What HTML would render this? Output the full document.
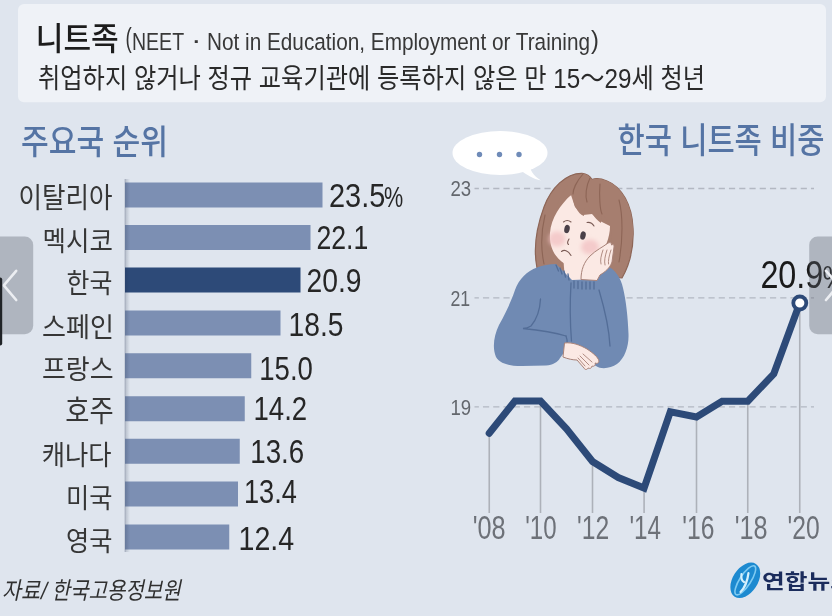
<!DOCTYPE html>
<html lang="ko">
<head>
<meta charset="utf-8">
<title>니트족</title>
<style>
html,body{margin:0;padding:0;background:#dfe5ee;}
body{width:832px;height:616px;overflow:hidden;position:relative;}
svg{display:block;position:absolute;left:0;top:0;filter:blur(0.55px);}
text{font-family:"Liberation Sans","Noto Sans CJK KR",sans-serif;}
</style>
</head>
<body>
<svg width="832" height="616" viewBox="0 0 832 616">
<defs><filter id="bl" x="-50%" y="-50%" width="200%" height="200%"><feGaussianBlur stdDeviation="2.2"/></filter><linearGradient id="axsh" x1="0" y1="0" x2="1" y2="0"><stop offset="0" stop-color="#1c2a45" stop-opacity="0.22"/><stop offset="1" stop-color="#1c2a45" stop-opacity="0"/></linearGradient></defs>
<rect x="0" y="0" width="832" height="616" fill="#dfe5ee"/>
<!-- header box -->
<rect x="18" y="4" width="808" height="98.3" rx="6" fill="#eff2f7"/>
<text x="35.75" y="50.00" font-size="31.76" fill="#1c1c1c" textLength="82.96" lengthAdjust="spacingAndGlyphs" font-weight="500">니트족</text>
<text x="125.50" y="46.50" font-size="27.04" fill="#333" textLength="6.25" lengthAdjust="spacingAndGlyphs">(</text>
<text x="132.00" y="49.70" font-size="24.30" fill="#383838" textLength="52.06" lengthAdjust="spacingAndGlyphs">NEET</text>
<text x="191.00" y="48.50" font-size="26.00" fill="#383838" textLength="10.56" lengthAdjust="spacingAndGlyphs">·</text>
<text x="207.00" y="50.00" font-size="24.30" fill="#383838" textLength="383.02" lengthAdjust="spacingAndGlyphs">Not in Education, Employment or Training</text>
<text x="591.00" y="49.00" font-size="26.58" fill="#333" textLength="7.89" lengthAdjust="spacingAndGlyphs">)</text>
<text x="38.00" y="87.50" font-size="27.62" fill="#2a2a2a" textLength="667.01" lengthAdjust="spacingAndGlyphs">취업하지 않거나 정규 교육기관에 등록하지 않은 만 15～29세 청년</text>
<text x="21.00" y="153.50" font-size="34.28" fill="#5574a4" textLength="147.12" lengthAdjust="spacingAndGlyphs" font-weight="500">주요국 순위</text>
<text x="617.50" y="153.25" font-size="34.80" fill="#5574a4" textLength="207.02" lengthAdjust="spacingAndGlyphs" font-weight="500">한국 니트족 비중</text>
<!-- bar chart -->
<rect x="124.2" y="179" width="1.3" height="373" fill="#c3cad6"/>
<rect x="125" y="182.5" width="197.50" height="25" fill="#7c8fb3"/>
<text x="18.50" y="208.00" font-size="28.37" fill="#363636" textLength="94.06" lengthAdjust="spacingAndGlyphs">이탈리아</text>
<text x="329.00" y="207.40" font-size="33.80" fill="#262626" textLength="56.34" lengthAdjust="spacingAndGlyphs">23.5</text>
<text x="384.00" y="207.30" font-size="30.19" fill="#262626" textLength="19.18" lengthAdjust="spacingAndGlyphs">%</text>
<rect x="125" y="225" width="185.50" height="25" fill="#7c8fb3"/>
<text x="42.50" y="250.50" font-size="27.39" fill="#363636" textLength="70.41" lengthAdjust="spacingAndGlyphs">멕시코</text>
<text x="316.50" y="249.15" font-size="33.80" fill="#262626" textLength="51.83" lengthAdjust="spacingAndGlyphs">22.1</text>
<rect x="125" y="267.5" width="175.50" height="25" fill="#2d4a78"/>
<text x="66.50" y="293.00" font-size="27.39" fill="#363636" textLength="45.84" lengthAdjust="spacingAndGlyphs">한국</text>
<text x="306.50" y="291.65" font-size="33.45" fill="#262626" textLength="55.08" lengthAdjust="spacingAndGlyphs">20.9</text>
<rect x="125" y="310.5" width="155.50" height="25" fill="#7c8fb3"/>
<text x="42.00" y="336.75" font-size="27.39" fill="#363636" textLength="71.93" lengthAdjust="spacingAndGlyphs">스페인</text>
<text x="288.50" y="336.15" font-size="32.69" fill="#262626" textLength="54.93" lengthAdjust="spacingAndGlyphs">18.5</text>
<rect x="125" y="353.25" width="126.25" height="25" fill="#7c8fb3"/>
<text x="42.00" y="379.25" font-size="27.72" fill="#363636" textLength="71.58" lengthAdjust="spacingAndGlyphs">프랑스</text>
<text x="259.25" y="379.90" font-size="33.80" fill="#262626" textLength="53.67" lengthAdjust="spacingAndGlyphs">15.0</text>
<rect x="125" y="396.25" width="119.75" height="25" fill="#7c8fb3"/>
<text x="65.25" y="420.75" font-size="29.47" fill="#363636" textLength="48.36" lengthAdjust="spacingAndGlyphs">호주</text>
<text x="253.50" y="420.15" font-size="33.08" fill="#262626" textLength="53.73" lengthAdjust="spacingAndGlyphs">14.2</text>
<rect x="125" y="438.75" width="114.75" height="25" fill="#7c8fb3"/>
<text x="41.75" y="465.00" font-size="27.72" fill="#363636" textLength="69.80" lengthAdjust="spacingAndGlyphs">캐나다</text>
<text x="250.25" y="463.40" font-size="32.69" fill="#262626" textLength="53.93" lengthAdjust="spacingAndGlyphs">13.6</text>
<rect x="125" y="481.5" width="113.00" height="25" fill="#7c8fb3"/>
<text x="66.00" y="507.50" font-size="27.72" fill="#363636" textLength="46.50" lengthAdjust="spacingAndGlyphs">미국</text>
<text x="244.00" y="503.15" font-size="33.08" fill="#262626" textLength="52.87" lengthAdjust="spacingAndGlyphs">13.4</text>
<rect x="125" y="524.5" width="104.25" height="25" fill="#7c8fb3"/>
<text x="66.00" y="550.50" font-size="27.39" fill="#363636" textLength="46.42" lengthAdjust="spacingAndGlyphs">영국</text>
<text x="238.50" y="550.40" font-size="33.45" fill="#262626" textLength="55.66" lengthAdjust="spacingAndGlyphs">12.4</text>
<rect x="125" y="179" width="5" height="373" fill="url(#axsh)"/>
<!-- line chart -->
<line x1="474.5" y1="188.5" x2="814" y2="188.5" stroke="#b3b8c2" stroke-width="1.4" stroke-dasharray="6.2 4.05" stroke-dashoffset="1.8"/>
<line x1="474.5" y1="297.9" x2="814" y2="297.9" stroke="#b3b8c2" stroke-width="1.4" stroke-dasharray="6.2 4.05" stroke-dashoffset="1.8"/>
<line x1="474.5" y1="406.9" x2="814" y2="406.9" stroke="#b3b8c2" stroke-width="1.4" stroke-dasharray="6.2 4.05" stroke-dashoffset="1.8"/>
<text x="450.50" y="196.30" font-size="21.59" fill="#63676d" textLength="20.70" lengthAdjust="spacingAndGlyphs">23</text>
<text x="450.50" y="305.60" font-size="21.59" fill="#63676d" textLength="19.72" lengthAdjust="spacingAndGlyphs">21</text>
<text x="450.50" y="414.70" font-size="21.59" fill="#63676d" textLength="20.70" lengthAdjust="spacingAndGlyphs">19</text>
<line x1="489.25" y1="433.3" x2="489.25" y2="513" stroke="#adb1b9" stroke-width="1.6"/>
<line x1="540.50" y1="401.0" x2="540.50" y2="513" stroke="#adb1b9" stroke-width="1.6"/>
<line x1="592.50" y1="461.5" x2="592.50" y2="513" stroke="#adb1b9" stroke-width="1.6"/>
<line x1="644.10" y1="488.0" x2="644.10" y2="513" stroke="#adb1b9" stroke-width="1.6"/>
<line x1="696.50" y1="417.0" x2="696.50" y2="513" stroke="#adb1b9" stroke-width="1.6"/>
<line x1="747.75" y1="401.2" x2="747.75" y2="513" stroke="#adb1b9" stroke-width="1.6"/>
<line x1="799.75" y1="303.0" x2="799.75" y2="513" stroke="#adb1b9" stroke-width="1.6"/>
<polyline points="489.2,433.3 514.9,401.0 540.5,401.0 566.5,428.8 592.5,461.5 618.3,477.5 644.1,488.0 670.3,411.8 696.5,417.0 722.1,401.2 747.8,401.2 773.8,373.8 799.8,303.0" fill="none" stroke="#2d4a78" stroke-width="7" stroke-linejoin="miter" stroke-miterlimit="2.2" stroke-linecap="round"/>
<circle cx="799.8" cy="303.0" r="6.5" fill="#fff" stroke="#2d4a78" stroke-width="3.8"/>
<text x="472.75" y="539.00" font-size="32.38" fill="#6d7178" textLength="32.88" lengthAdjust="spacingAndGlyphs">'08</text>
<text x="525.25" y="539.00" font-size="32.38" fill="#6d7178" textLength="31.35" lengthAdjust="spacingAndGlyphs">'10</text>
<text x="577.00" y="539.00" font-size="32.38" fill="#6d7178" textLength="32.14" lengthAdjust="spacingAndGlyphs">'12</text>
<text x="629.50" y="539.00" font-size="32.38" fill="#6d7178" textLength="31.57" lengthAdjust="spacingAndGlyphs">'14</text>
<text x="682.25" y="539.00" font-size="32.38" fill="#6d7178" textLength="32.14" lengthAdjust="spacingAndGlyphs">'16</text>
<text x="734.75" y="539.00" font-size="32.38" fill="#6d7178" textLength="32.88" lengthAdjust="spacingAndGlyphs">'18</text>
<text x="787.50" y="539.00" font-size="32.38" fill="#6d7178" textLength="32.14" lengthAdjust="spacingAndGlyphs">'20</text>
<text x="760.40" y="287.90" font-size="38.69" fill="#1a1a1a" textLength="62.90" lengthAdjust="spacingAndGlyphs">20.9</text>
<text x="822.60" y="287.90" font-size="30.94" fill="#1a1a1a" textLength="24.12" lengthAdjust="spacingAndGlyphs">%</text>
<g id="girl">
<!-- hair back -->
<path d="M582,173.3 C566,173 551,188 544,207 C537,226 533,248 537,268 L548,272 L622,278 C630,264 634,246 633,228 C632,205 622,187 607,181 C601,178.5 596,178 592,179.5 C590,176 586,173.8 582,173.3 Z" fill="#a67e6f" stroke="#8d6556" stroke-width="1.2" stroke-linejoin="round"/>
<!-- neck -->
<path d="M563,255 L565,280 L590,284 L590,258 Z" fill="#fbe9e4"/>
<!-- sweater -->
<path d="M537,267.5 C527,271 519,279 515,290 C511,302 505,314 499,325 C494,335 492,348 496,357 C500,364 510,366 522,366 L546,365.5 C553,365 558,362 560,358 L566,350 L596,366 C602,370 611,368 617,364 C625,358 629,346 628.5,334 C628,318 626,300 623,288 C621,278 615,269 607,266 L597,279 L572,280 L556,264 C549,264 543,265.5 537,267.5 Z" fill="#708ab3"/>
<!-- sweater detail lines -->
<g fill="none" stroke="#536d97" stroke-width="1.3" stroke-linecap="round">
<path d="M540.5,299 C540,310 536,320 531,326 C528,328 525,328.5 523,328.5 C538,330 553,332 566,336"/>
<path d="M566,336 C568,341 567,347 564.5,352"/>
<path d="M571,283 C570,300 570,322 571.5,341"/>
<path d="M599,290 C604,307 609,326 610,346"/>
<path d="M556,265 l2.5,6 M560,268 l2,6 M564,271 l1.5,6 M568,274 l1,6"/>
<path d="M574,281 l0,7 M578,281.5 l0,7 M582,282 l0,7 M586,282 l0,7 M590,282 l0,7 M594,282 l0,7"/>
</g>
<!-- face -->
<path d="M571,195 C561,204 551,218 550,233 C549,247 555,258 565,264 C574,269 585,268 593,262 C603,254 610,240 610,226 L600,221 L592,214 L583,215 L575,207 Z" fill="#fbe9e4"/>
<!-- blush -->
<g filter="url(#bl)"><ellipse cx="557" cy="239" rx="8.5" ry="7.5" fill="#f2c0c1" opacity="0.75"/><ellipse cx="590" cy="247" rx="9" ry="7.5" fill="#f2c0c1" opacity="0.75"/></g>
<!-- bangs -->
<path d="M582,173.5 C572,178 560,192 556,210 C562,203 567,197 573,194 C573,200 574,205 576,208 C578,212 581,215 584,216 C584,210 585,205 587,200 C589,210 594,218 601,223 C601,219 601,215 602,212 C605,218 608,223 611,226 C612,232 612,240 612,246 L622,262 C630,250 634,240 633,228 C632,205 622,187 607,181 C601,178.5 596,178 592,179.5 C590,176 586,173.8 582,173.5 Z" fill="#a67e6f"/>
<g fill="none" stroke="#8d6556" stroke-width="1.1" stroke-linecap="round">
<path d="M583,174 C576,182 573,190 573,194"/>
<path d="M590,178 C586,186 585,196 587,202"/>
<path d="M600,184 C599,196 600,210 602,214"/>
<path d="M619,200 C623,215 623,240 619,262"/>
<path d="M545,215 C541,232 541,250 544,264"/>
</g>
<!-- eyes -->
<ellipse cx="567" cy="229" rx="2.7" ry="4.2" fill="#4a4048" transform="rotate(12 567 229)"/>
<ellipse cx="583" cy="235.5" rx="2.7" ry="4.2" fill="#4a4048" transform="rotate(12 583 235.5)"/>
<g fill="none" stroke="#7a5b55" stroke-width="1.1" stroke-linecap="round">
<path d="M563.5,222 C566,220 569,220.5 571,222"/>
<path d="M587,222.5 C590,222 592.5,223.5 594,226"/>
<path d="M569,239 C567.5,241.5 567,243.5 568.5,244.5"/>
<path d="M561.5,251.5 C564,249.5 568,250 571,255.5"/>
</g>
<!-- hand on cheek -->
<path d="M581,279.5 C581,270 584,262 590,256 C596,250 603,247 608,243 C610,242 612,243 611.5,245 C613,244 614.5,245 614,247 L612,262 C610,268 605,272 600,275 L597,280.5 Z" fill="#fbe9e4" stroke="#a88278" stroke-width="1" stroke-linejoin="round"/>
<g fill="none" stroke="#a88278" stroke-width="0.9" stroke-linecap="round"><path d="M603,250 C601,256 600,260 601,264"/><path d="M607,250 C605,256 604,261 605,265"/><path d="M611,250 C609,256 608,261 608.5,264"/></g>
<!-- lower hand -->
<path d="M564.5,343 C572,342 580,345 587,349 C593,353 598,357 599,361 C599,363 597,364 595,363 C596,365 594,367 592,366 C592,368 590,369 588,368 C587,370 585,370 584,368 L577,360 C573,360 568,359 563,357 Z" fill="#fbe9e4" stroke="#a88278" stroke-width="1" stroke-linejoin="round"/>
<g fill="none" stroke="#a88278" stroke-width="0.9" stroke-linecap="round"><path d="M583,354 L592,362"/><path d="M580,356 L589,365"/><path d="M578,358 L585,366"/></g>
</g>
<g id="bubble">
<ellipse cx="500" cy="153" rx="47.5" ry="22" fill="#fff"/>
<path d="M520,170 C527,175 533,179 541,180.5 C535,177 531,172 530,167 Z" fill="#fff"/>
<circle cx="479.5" cy="154.5" r="2.7" fill="#6f8bb8"/><circle cx="499.5" cy="154.5" r="2.7" fill="#6f8bb8"/><circle cx="519" cy="154.5" r="2.7" fill="#6f8bb8"/>
</g>
<!-- source -->
<text x="2.00" y="599.50" font-size="23.78" fill="#303030" textLength="43.52" lengthAdjust="spacingAndGlyphs" transform="translate(2.00 599.50) skewX(-12) translate(-2.00 -599.50)">자료/</text>
<text x="51.50" y="599.50" font-size="23.78" fill="#303030" textLength="129.07" lengthAdjust="spacingAndGlyphs" transform="translate(51.50 599.50) skewX(-12) translate(-51.50 -599.50)">한국고용정보원</text>
<g id="logo">
<g transform="rotate(33 745.3 580.3)">
<ellipse cx="745.3" cy="580.3" rx="12.5" ry="19.5" fill="#1d8ad0"/>
<ellipse cx="745.3" cy="580.3" rx="5.5" ry="17" fill="none" stroke="#7fcbf2" stroke-width="1.6"/>
</g>
<path d="M741.5,574 C741,578 742,581 744,582 M748.5,573 C747.5,581 744.5,588 740.5,592" fill="none" stroke="#d6f0fc" stroke-width="2.2" stroke-linecap="round"/>
<text x="762.00" y="589.30" font-size="20.52" fill="#1b2c5c" textLength="91.05" lengthAdjust="spacingAndGlyphs" font-weight="700">연합뉴스</text>
</g>
<g id="nav">
<rect x="-10" y="236.5" width="43.2" height="97.8" rx="8.5" fill="#5b606c" fill-opacity="0.36"/>
<polyline points="16.2,270.8 3.8,285.3 16.2,300" fill="none" stroke="#eceef2" stroke-width="2.6" stroke-linecap="round" stroke-linejoin="round"/>
<rect x="-5" y="277.5" width="7.2" height="68" rx="2" fill="#202327"/>
<rect x="809.2" y="236.5" width="40" height="97.8" rx="8.5" fill="#5b606c" fill-opacity="0.36"/>
<polyline points="826,270.8 838.4,285.3 826,300" fill="none" stroke="#eceef2" stroke-width="2.6" stroke-linecap="round" stroke-linejoin="round"/>
</g>
</svg>
</body>
</html>
